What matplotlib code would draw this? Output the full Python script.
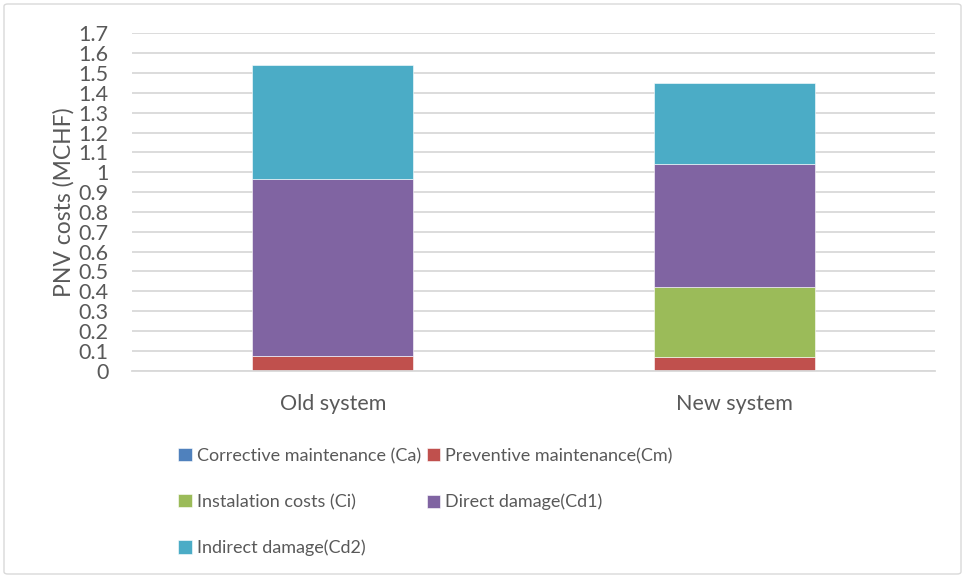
import numpy as np
import matplotlib.pyplot as plt
from matplotlib.patches import FancyBboxPatch

plt.rcParams['font.family'] = ['Lato', 'DejaVu Sans']

categories = ['Old system', 'New system']
ca = [0.0, 0.0]
cm = [0.074, 0.071]
ci = [0.0, 0.349]
cd1 = [0.890, 0.623]
cd2 = [0.576, 0.405]

labels = ['Corrective maintenance (Ca)', 'Preventive maintenance(Cm)',
          'Instalation costs (Ci)', 'Direct damage(Cd1)', 'Indirect damage(Cd2)']
colors = ['#4f81bd', '#c0504d', '#9bbb59', '#8064a2', '#4bacc6']
yticks = np.round(np.arange(0, 1.71, 0.1), 1)
ytick_labels = [f'{v:g}' for v in yticks]

txt = '#595959'
fig = plt.figure(figsize=(9.65, 5.78), dpi=100)
ax = fig.add_axes([132 / 965, 1 - 370.7 / 578, 803 / 965, 337.4 / 578])

x = np.arange(len(categories))
bottom = np.zeros(len(categories))
handles = []
for vals, lab, col in zip([ca, cm, ci, cd1, cd2], labels, colors):
    h = ax.bar(x, vals, 0.4, bottom=bottom, color=col, label=lab,
               edgecolor='white', linewidth=0.4)
    handles.append(h)
    bottom += np.array(vals)

ax.set_xlim(-0.5, 1.5)
ax.set_ylim(0, 1.7)
ax.set_yticks(yticks)
ax.set_yticklabels(ytick_labels)
ax.set_xticks(x)
ax.set_xticklabels(categories)
ax.yaxis.grid(True, color='#d9d9d9', linewidth=1.3)
ax.set_axisbelow(True)
for s in ax.spines.values():
    s.set_visible(False)
ax.spines['bottom'].set_visible(True)
ax.spines['bottom'].set_color('#d9d9d9')
ax.spines['bottom'].set_linewidth(1.3)
ax.tick_params(length=0, labelsize=15.5, labelcolor=txt)
ax.tick_params(axis='x', pad=17)
ax.tick_params(axis='y', pad=17)
ax.set_ylabel('PNV costs (MCHF)', fontsize=16.5, color=txt, labelpad=3)

# legend filled column-wise, so reorder to read row by row
order = [0, 2, 4, 1, 3]
fig.legend([handles[i] for i in order], [labels[i] for i in order],
           ncol=2, loc='upper left', bbox_to_anchor=(178 / 965, 1 - 448 / 578),
           frameon=False, fontsize=13, labelcolor=txt,
           handlelength=0.75, handleheight=0.75, handletextpad=0.3,
           labelspacing=1.65, columnspacing=0.3, borderaxespad=0, borderpad=0)

border = FancyBboxPatch((4 / 965, 4 / 578), 957 / 965, 570 / 578,
                        boxstyle='round,pad=0,rounding_size=0.004',
                        transform=fig.transFigure, fill=False,
                        edgecolor='#d9d9d9', linewidth=1)
fig.patches.append(border)

fig.savefig('out.png', dpi=100)
